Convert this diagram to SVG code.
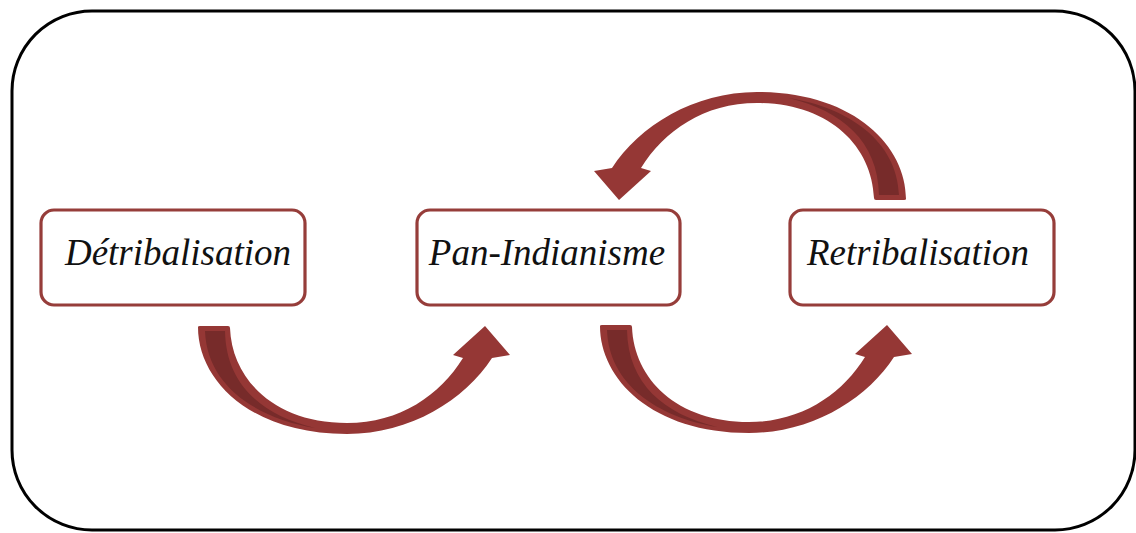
<svg xmlns="http://www.w3.org/2000/svg" xmlns:xlink="http://www.w3.org/1999/xlink" width="1136" height="533" viewBox="0 0 1136 533">
<style>
.frame{fill:#ffffff;stroke:#000000;stroke-width:3}
.box{fill:#ffffff;stroke:#963d3a;stroke-width:3.2}
.lbl{font-family:"Liberation Serif","Times New Roman",serif;font-style:italic;font-size:37px;fill:#111111;text-anchor:middle}
.arrow{fill:#953735}
.shade{fill:#772b2a}
</style>
<defs>
<g id="curvedArrow">
<path class="arrow" d="M198,327 Q198,326 200,326 L228,326 Q230,326 230,328 C232,380 275,423 347,423 C400,423 440,395 463,358 L453,355 L485,326 L510,355 L492,358 C465,400 410,434 347,434 C250,434 198,380 198,327 Z"/>
<path class="shade" d="M205,331 L225,331 C226,385 262,415 315,428 C255,418 207,385 205,331 Z"/>
</g>
</defs>
<rect class="frame" x="12" y="11" width="1123" height="519" rx="80" ry="80"/>
<g id="connectors">
<use xlink:href="#curvedArrow"/>
<use xlink:href="#curvedArrow" transform="translate(402,-1)"/>
<use xlink:href="#curvedArrow" transform="rotate(180,552,263)"/>
</g>
<g id="node-detribalisation">
<rect class="box" x="41" y="210" width="264" height="95" rx="13" ry="13"/>
<text class="lbl" x="178" y="265">Détribalisation</text>
</g>
<g id="node-pan-indianisme">
<rect class="box" x="417" y="210" width="263" height="95" rx="13" ry="13"/>
<text class="lbl" x="547" y="265">Pan-Indianisme</text>
</g>
<g id="node-retribalisation">
<rect class="box" x="790" y="210" width="264" height="95" rx="13" ry="13"/>
<text class="lbl" x="918" y="265">Retribalisation</text>
</g>
</svg>
